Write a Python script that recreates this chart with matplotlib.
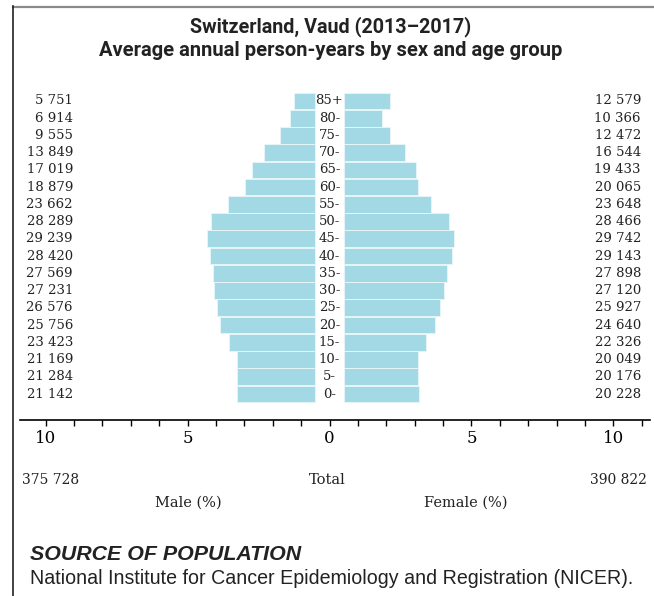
import matplotlib
matplotlib.use("Agg")
import matplotlib.pyplot as plt
from matplotlib.ticker import MultipleLocator, FixedLocator
from matplotlib.lines import Line2D

age_groups = ["0-", "5-", "10-", "15-", "20-", "25-", "30-", "35-", "40-",
              "45-", "50-", "55-", "60-", "65-", "70-", "75-", "80-", "85+"]
male = [21142, 21284, 21169, 23423, 25756, 26576, 27231, 27569, 28420,
        29239, 28289, 23662, 18879, 17019, 13849, 9555, 6914, 5751]
female = [20228, 20176, 20049, 22326, 24640, 25927, 27120, 27898, 29143,
          29742, 28466, 23648, 20065, 19433, 16544, 12472, 10366, 12579]
male_total = "375 728"
female_total = "390 822"
xtick_vals = [-10, -5, 0, 5, 10]
xtick_labels = ["10", "5", "0", "5", "10"]

def fmt(n):
    return f"{n:,}".replace(",", " ")

grand = sum(male) + sum(female)
male_pct = [v / grand * 100 for v in male]
female_pct = [v / grand * 100 for v in female]

W, H = 654, 596
fig = plt.figure(figsize=(W / 100, H / 100), dpi=100)

# axes in pixel coords
x0_px, x1_px = 20, 650
y_top_px, y_bot_px = 80, 420
ax = fig.add_axes([x0_px / W, 1 - y_bot_px / H, (x1_px - x0_px) / W, (y_bot_px - y_top_px) / H])

ppu = 28.38
cx = 329.5
ax.set_xlim((x0_px - cx) / ppu, (x1_px - cx) / ppu)
pitch = 17.24
row0 = 394.0
ax.set_ylim(-(y_bot_px - row0) / pitch, (row0 - y_top_px) / pitch)

gap = 0.5
color = "#a2d9e4"
ys = list(range(len(age_groups)))
ax.barh(ys, [-v for v in male_pct], left=-gap, height=0.97, color=color,
        edgecolor="#e6f5f8", linewidth=0.7)
ax.barh(ys, female_pct, left=gap, height=0.97, color=color,
        edgecolor="#e6f5f8", linewidth=0.7)

serif = ["DejaVu Serif"]
for y, lab, m, f in zip(ys, age_groups, male, female):
    ax.text(0, y, lab, ha="center", va="center", fontsize=9.5,
            family=serif, color="#222222")
    ax.text((73 - cx) / ppu, y, fmt(m), ha="right", va="center", fontsize=9.5,
            family=serif, color="#222222")
    ax.text((641 - cx) / ppu, y, fmt(f), ha="right", va="center", fontsize=9.5,
            family=serif, color="#222222")

for s in ["top", "left", "right"]:
    ax.spines[s].set_visible(False)
ax.spines["bottom"].set_linewidth(1.2)
ax.set_yticks([])
ax.xaxis.set_major_locator(FixedLocator(xtick_vals))
ax.set_xticklabels(xtick_labels, family=serif, fontsize=12)
ax.xaxis.set_minor_locator(MultipleLocator(1))
ax.tick_params(axis="x", which="both", direction="out", length=4, width=1, pad=3)

# bottom labels
def ftext(xp, yp, s, **kw):
    fig.text(xp / W, 1 - yp / H, s, **kw)

ftext(22, 480, male_total, ha="left", va="center", fontsize=10, family=serif, color="#222222")
ftext(327, 480, "Total", ha="center", va="center", fontsize=10.5, family=serif, color="#222222")
ftext(647, 480, female_total, ha="right", va="center", fontsize=10, family=serif, color="#222222")
ftext(188, 503, "Male (%)", ha="center", va="center", fontsize=10.5, family=serif, color="#222222")
ftext(466, 503, "Female (%)", ha="center", va="center", fontsize=10.5, family=serif, color="#222222")

# title
ftext(331, 27, "Switzerland, Vaud (2013\u20132017)", ha="center", va="center",
      fontsize=14.2, fontweight="bold", family=["Roboto", "DejaVu Sans"], color="#222222")
ftext(331, 50, "Average annual person-years by sex and age group", ha="center", va="center",
      fontsize=14.5, fontweight="bold", family=["Roboto", "DejaVu Sans"], color="#222222")

# source
ftext(30, 555, "SOURCE OF POPULATION", ha="left", va="center", fontsize=15.4,
      fontweight="bold", fontstyle="italic", family=["Liberation Sans"], color="#222222")
ftext(30, 578, "National Institute for Cancer Epidemiology and Registration (NICER).",
      ha="left", va="center", fontsize=14.1, family=["Liberation Sans"], color="#222222")

# frame lines
fig.add_artist(Line2D([13 / W, 1], [1 - 6.5 / H, 1 - 6.5 / H], color="#8a8a8a", linewidth=1.6))
fig.add_artist(Line2D([13 / W, 13 / W], [1 - 6 / H, 0], color="#222222", linewidth=1.2))

fig.savefig("out.png", dpi=100)
